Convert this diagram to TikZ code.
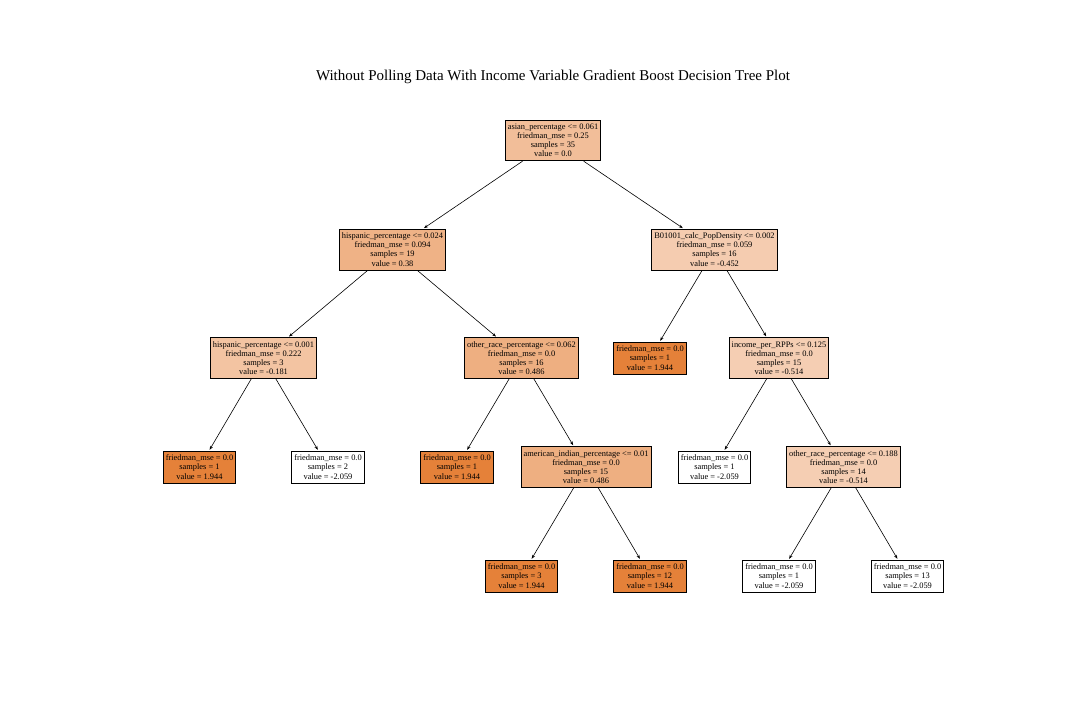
\documentclass[tikz,border=0pt]{standalone}
\usepackage{fontspec}
\setmainfont{Liberation Serif}
\usetikzlibrary{arrows.meta}
\definecolor{c0}{RGB}{242,190,153}
\definecolor{c1}{RGB}{239,178,134}
\definecolor{c2}{RGB}{245,204,176}
\definecolor{c3}{RGB}{243,196,162}
\definecolor{c4}{RGB}{238,175,129}
\definecolor{c5}{RGB}{245,206,179}
\definecolor{cmax}{RGB}{229,129,57}
\definecolor{cmin}{RGB}{255,255,255}
\tikzset{
  tn/.style={draw=black, line width=0.8pt, align=center, inner xsep=2.5pt, inner ysep=3.8pt,
    font=\fontsize{8.4}{9.1}\selectfont},
  edge/.style={line width=0.6pt, -{Stealth[length=4pt,width=3pt]}, shorten >=1pt}
}
\begin{document}
\begin{tikzpicture}[x=1pt,y=-1pt]
\useasboundingbox (0,0) rectangle (1080,720);
\node[font=\fontsize{15}{17}\selectfont] (title) at (553,77) {Without Polling Data With Income Variable Gradient Boost Decision Tree Plot};

\node[tn, fill=c0] (n0) at (553,140.5) {asian\_percentage <= 0.061\\friedman\_mse = 0.25\\samples = 35\\value = 0.0};
\node[tn, fill=c1] (n1) at (392.5,249.5) {hispanic\_percentage <= 0.024\\friedman\_mse = 0.094\\samples = 19\\value = 0.38};
\node[tn, fill=c2] (n2) at (714.5,249.5) {B01001\_calc\_PopDensity <= 0.002\\friedman\_mse = 0.059\\samples = 16\\value = -0.452};
\node[tn, fill=c3] (n3) at (263.5,358) {hispanic\_percentage <= 0.001\\friedman\_mse = 0.222\\samples = 3\\value = -0.181};
\node[tn, fill=c4] (n4) at (521.5,358) {other\_race\_percentage <= 0.062\\friedman\_mse = 0.0\\samples = 16\\value = 0.486};
\node[tn, fill=cmax] (n5) at (650,358) {friedman\_mse = 0.0\\samples = 1\\value = 1.944};
\node[tn, fill=c5] (n6) at (779,358) {income\_per\_RPPs <= 0.125\\friedman\_mse = 0.0\\samples = 15\\value = -0.514};
\node[tn, fill=cmax] (n7) at (199.5,467) {friedman\_mse = 0.0\\samples = 1\\value = 1.944};
\node[tn, fill=cmin] (n8) at (328,467) {friedman\_mse = 0.0\\samples = 2\\value = -2.059};
\node[tn, fill=cmax] (n9) at (457,467) {friedman\_mse = 0.0\\samples = 1\\value = 1.944};
\node[tn, fill=c4] (n10) at (586,467) {american\_indian\_percentage <= 0.01\\friedman\_mse = 0.0\\samples = 15\\value = 0.486};
\node[tn, fill=cmin] (n11) at (714.5,467) {friedman\_mse = 0.0\\samples = 1\\value = -2.059};
\node[tn, fill=c5] (n12) at (843.5,467) {other\_race\_percentage <= 0.188\\friedman\_mse = 0.0\\samples = 14\\value = -0.514};
\node[tn, fill=cmax] (n13) at (521.5,576) {friedman\_mse = 0.0\\samples = 3\\value = 1.944};
\node[tn, fill=cmax] (n14) at (650,576) {friedman\_mse = 0.0\\samples = 12\\value = 1.944};
\node[tn, fill=cmin] (n15) at (779,576) {friedman\_mse = 0.0\\samples = 1\\value = -2.059};
\node[tn, fill=cmin] (n16) at (907.5,576) {friedman\_mse = 0.0\\samples = 13\\value = -2.059};

\draw[edge] (n0) -- (n1);
\draw[edge] (n0) -- (n2);
\draw[edge] (n1) -- (n3);
\draw[edge] (n1) -- (n4);
\draw[edge] (n2) -- (n5);
\draw[edge] (n2) -- (n6);
\draw[edge] (n3) -- (n7);
\draw[edge] (n3) -- (n8);
\draw[edge] (n4) -- (n9);
\draw[edge] (n4) -- (n10);
\draw[edge] (n6) -- (n11);
\draw[edge] (n6) -- (n12);
\draw[edge] (n10) -- (n13);
\draw[edge] (n10) -- (n14);
\draw[edge] (n12) -- (n15);
\draw[edge] (n12) -- (n16);
\end{tikzpicture}
\end{document}
